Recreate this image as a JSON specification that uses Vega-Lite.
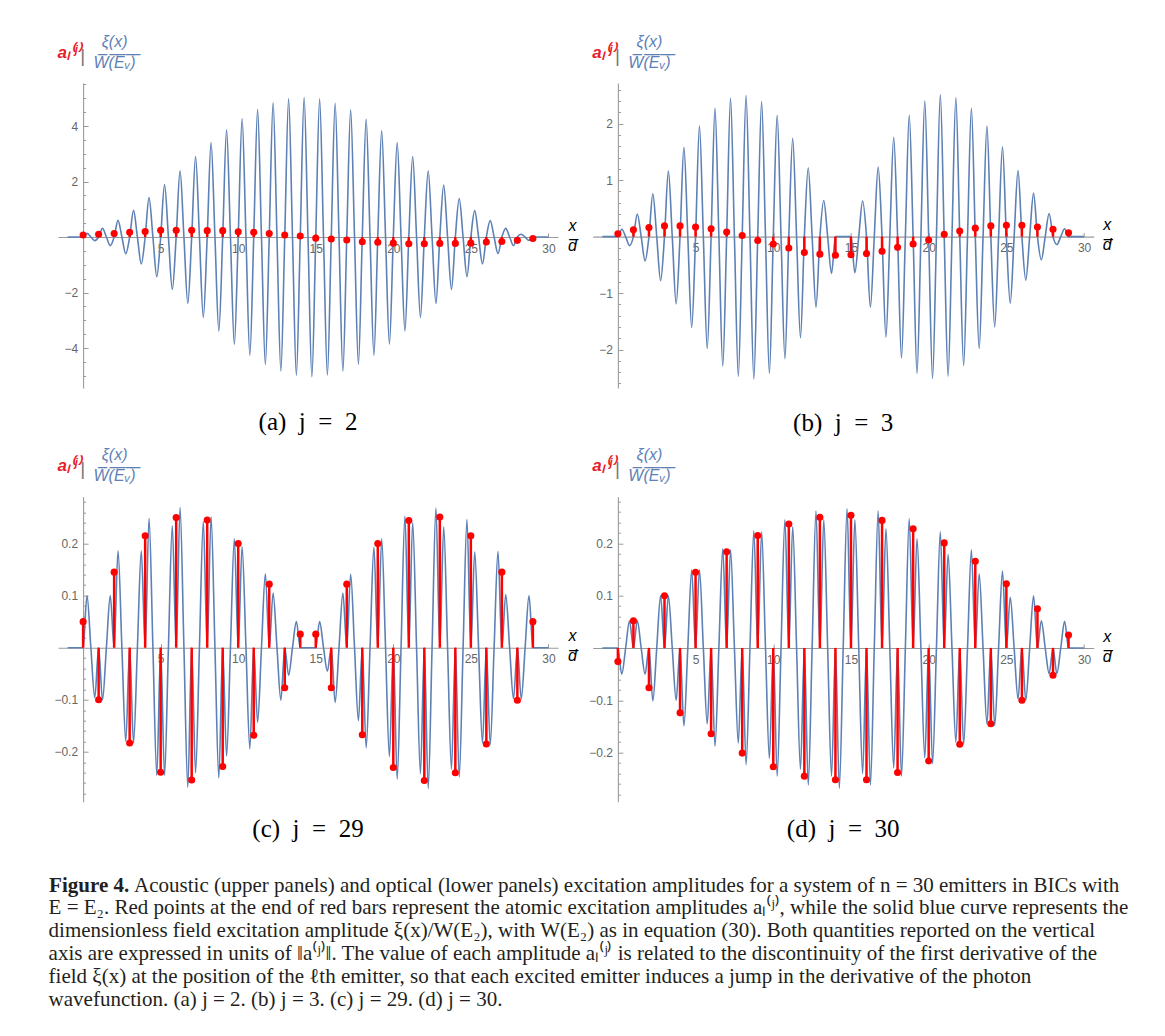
{
"$schema": "https://vega.github.io/schema/vega-lite/v6.json",
"background": "white",
"padding": {"left": 48, "top": 33, "right": 10, "bottom": 10},
"columns": 2,
"bounds": "flush",
"spacing": {"row": 108.7, "column": 34.7},
"title": {"text": ["E = E₂. Red points at the end of red bars represent the atomic excitation amplitudes aₗ⁽ʲ⁾, while the solid blue curve represents the", "dimensionless field excitation amplitude ξ(x)/W(E₂), with W(E₂) as in equation (30). Both quantities reported on the vertical", "axis are expressed in units of ‖a⁽ʲ⁾‖. The value of each amplitude aₗ⁽ʲ⁾ is related to the discontinuity of the first derivative of the", "field ξ(x) at the position of the ℓth emitter, so that each excited emitter induces a jump in the derivative of the photon", "wavefunction. (a) j = 2. (b) j = 3. (c) j = 29. (d) j = 30."], "orient": "bottom", "anchor": "start", "frame": "group", "offset": 2, "dx": -9.4, "font": "Liberation Serif", "fontSize": 21, "fontWeight": "normal", "color": "#231f20", "lineHeight": 23, "baseline": "top"},
"concat": [
{"width": 500, "height": 305,
 "title": {"text": "(a)\u2002j\u2002=\u20022", "orient": "bottom", "offset": 22, "frame": "group", "anchor": "middle", "font": "Liberation Serif", "fontSize": 25, "fontWeight": "normal", "color": "#000000", "baseline": "top"},
 "resolve": {"axis": {"x": "independent", "y": "independent"}},
 "layer": [
  {"data": {"name": "ca"},
   "mark": {"type": "line", "interpolate": "monotone", "color": "#5E81B5", "strokeWidth": 1.6},
   "encoding": {
    "x": {"field": "x", "type": "quantitative", "scale": {"domain": [-1.62, 30.62], "nice": false, "zero": false},
     "axis": {"orient": "bottom", "offset": -151, "values": [5,10,15,20,25,30], "format": "d", "tickSize": -4, "labelPadding": 10, "title": ["x", "d\u0305"], "titleX": 514, "titleY": -7, "titleAlign": "center", "titleBaseline": "alphabetic", "titleFont": "Liberation Sans", "titleFontStyle": "italic", "titleFontWeight": "normal", "titleFontSize": 16, "titleLineHeight": 20, "titleColor": "#000000"}},
    "y": {"field": "y", "type": "quantitative", "scale": {"domain": [-5.44, 5.55], "nice": false, "zero": false},
     "axis": {"orient": "left", "offset": -25.1, "values": [-5,-4.5,-4,-3.5,-3,-2.5,-2,-1.5,-1,-0.5,0.5,1,1.5,2,2.5,3,3.5,4,4.5,5,5.5], "labelExpr": "abs(datum.value) % 2 === 0 ? format(datum.value, 'd') : ''", "tickSize": {"condition": {"test": "abs(datum.value) % 2 === 0", "value": -5}, "value": -2.5}, "labelPadding": 10.5, "title": ["ξ(x)", "W\u0305(\u0305E\u0305ᵥ\u0305)\u0305"], "titleAngle": 0, "titleX": 31, "titleY": -37, "titleAlign": "center", "titleBaseline": "alphabetic", "titleFont": "Liberation Sans", "titleFontStyle": "italic", "titleFontWeight": "normal", "titleFontSize": 16, "titleLineHeight": 21, "titleColor": "#5E81B5"}}
   }},
  {"data": {"name": "aa"},
   "mark": {"type": "rule", "color": "#FF0000", "strokeWidth": 2.5},
   "encoding": {
    "x": {"field": "l", "type": "quantitative", "scale": {"domain": [-1.62, 30.62], "nice": false, "zero": false},
     "axis": {"orient": "top", "domain": false, "ticks": false, "labels": false, "title": "aₗ⁽ʲ⁾", "titleX": -1, "titleY": -26, "titleAlign": "left", "titleBaseline": "alphabetic", "titleFont": "Liberation Sans", "titleFontStyle": "italic", "titleFontWeight": "bold", "titleFontSize": 17, "titleColor": "#E8202A"}},
    "y": {"field": "a", "type": "quantitative", "scale": {"domain": [-5.44, 5.55], "nice": false, "zero": false},
     "axis": {"orient": "right", "domain": false, "ticks": false, "labels": false, "title": "|", "titleAngle": 0, "titleX": -475.7, "titleY": -22, "titleAlign": "center", "titleBaseline": "alphabetic", "titleFont": "Liberation Sans", "titleFontWeight": "normal", "titleFontSize": 19, "titleColor": "#777777"}},
    "y2": {"datum": 0}
   }},
  {"data": {"name": "aa"},
   "mark": {"type": "point", "filled": true, "color": "#FF0000", "size": 50, "opacity": 1},
   "encoding": {
    "x": {"field": "l", "type": "quantitative", "axis": null, "scale": {"domain": [-1.62, 30.62], "nice": false, "zero": false}},
    "y": {"field": "a", "type": "quantitative", "axis": null, "scale": {"domain": [-5.44, 5.55], "nice": false, "zero": false}}
   }}
 ]},
{"width": 501, "height": 305,
 "title": {"text": "(b)\u2002j\u2002=\u20023", "orient": "bottom", "offset": 22, "frame": "group", "anchor": "middle", "font": "Liberation Serif", "fontSize": 25, "fontWeight": "normal", "color": "#000000", "baseline": "top"},
 "resolve": {"axis": {"x": "independent", "y": "independent"}},
 "layer": [
  {"data": {"name": "cb"},
   "mark": {"type": "line", "interpolate": "monotone", "color": "#5E81B5", "strokeWidth": 1.6},
   "encoding": {
    "x": {"field": "x", "type": "quantitative", "scale": {"domain": [-1.62, 30.62], "nice": false, "zero": false},
     "axis": {"orient": "bottom", "offset": -151.4, "values": [5,10,15,20,25,30], "format": "d", "tickSize": -4, "labelPadding": 10, "title": ["x", "d\u0305"], "titleX": 514, "titleY": -7, "titleAlign": "center", "titleBaseline": "alphabetic", "titleFont": "Liberation Sans", "titleFontStyle": "italic", "titleFontWeight": "normal", "titleFontSize": 16, "titleLineHeight": 20, "titleColor": "#000000"}},
    "y": {"field": "y", "type": "quantitative", "scale": {"domain": [-2.68, 2.72], "nice": false, "zero": false},
     "axis": {"orient": "left", "offset": -25.2, "values": [-2.6,-2.4,-2.2,-2,-1.8,-1.6,-1.4,-1.2,-1,-0.8,-0.6,-0.4,-0.2,0.2,0.4,0.6,0.8,1,1.2,1.4,1.6,1.8,2,2.2,2.4,2.6], "labelExpr": "abs(datum.value) % 1 === 0 ? format(datum.value, 'd') : ''", "tickSize": {"condition": {"test": "abs(datum.value) % 1 === 0", "value": -5}, "value": -2.5}, "labelPadding": 10.5, "title": ["ξ(x)", "W\u0305(\u0305E\u0305ᵥ\u0305)\u0305"], "titleAngle": 0, "titleX": 31, "titleY": -37, "titleAlign": "center", "titleBaseline": "alphabetic", "titleFont": "Liberation Sans", "titleFontStyle": "italic", "titleFontWeight": "normal", "titleFontSize": 16, "titleLineHeight": 21, "titleColor": "#5E81B5"}}
   }},
  {"data": {"name": "ab"},
   "mark": {"type": "rule", "color": "#FF0000", "strokeWidth": 2.5},
   "encoding": {
    "x": {"field": "l", "type": "quantitative", "scale": {"domain": [-1.62, 30.62], "nice": false, "zero": false},
     "axis": {"orient": "top", "domain": false, "ticks": false, "labels": false, "title": "aₗ⁽ʲ⁾", "titleX": -1, "titleY": -26, "titleAlign": "left", "titleBaseline": "alphabetic", "titleFont": "Liberation Sans", "titleFontStyle": "italic", "titleFontWeight": "bold", "titleFontSize": 17, "titleColor": "#E8202A"}},
    "y": {"field": "a", "type": "quantitative", "scale": {"domain": [-2.68, 2.72], "nice": false, "zero": false},
     "axis": {"orient": "right", "domain": false, "ticks": false, "labels": false, "title": "|", "titleAngle": 0, "titleX": -476.7, "titleY": -22, "titleAlign": "center", "titleBaseline": "alphabetic", "titleFont": "Liberation Sans", "titleFontWeight": "normal", "titleFontSize": 19, "titleColor": "#777777"}},
    "y2": {"datum": 0}
   }},
  {"data": {"name": "ab"},
   "mark": {"type": "point", "filled": true, "color": "#FF0000", "size": 50, "opacity": 1},
   "encoding": {
    "x": {"field": "l", "type": "quantitative", "axis": null, "scale": {"domain": [-1.62, 30.62], "nice": false, "zero": false}},
    "y": {"field": "a", "type": "quantitative", "axis": null, "scale": {"domain": [-2.68, 2.72], "nice": false, "zero": false}}
   }}
 ]},
{"width": 500, "height": 305,
 "title": {"text": "(c)\u2002j\u2002=\u200229", "orient": "bottom", "offset": -78.5, "frame": "group", "anchor": "middle", "font": "Liberation Serif", "fontSize": 25, "fontWeight": "normal", "color": "#000000", "baseline": "top"},
 "resolve": {"axis": {"x": "independent", "y": "independent"}},
 "layer": [
  {"data": {"name": "cc"},
   "mark": {"type": "line", "interpolate": "monotone", "color": "#5E81B5", "strokeWidth": 1.6},
   "encoding": {
    "x": {"field": "x", "type": "quantitative", "scale": {"domain": [-1.62, 30.62], "nice": false, "zero": false},
     "axis": {"orient": "bottom", "offset": -154, "values": [5,10,15,20,25,30], "format": "d", "tickSize": -4, "labelPadding": 10, "title": ["x", "d\u0305"], "titleX": 514, "titleY": -7, "titleAlign": "center", "titleBaseline": "alphabetic", "titleFont": "Liberation Sans", "titleFontStyle": "italic", "titleFontWeight": "normal", "titleFontSize": 16, "titleLineHeight": 20, "titleColor": "#000000"}},
    "y": {"field": "y", "type": "quantitative", "scale": {"domain": [-0.2956, 0.2898], "nice": false, "zero": false},
     "axis": {"orient": "left", "offset": -25.1, "values": [-0.28,-0.26,-0.24,-0.22,-0.2,-0.18,-0.16,-0.14,-0.12,-0.1,-0.08,-0.06,-0.04,-0.02,0.02,0.04,0.06,0.08,0.1,0.12,0.14,0.16,0.18,0.2,0.22,0.24,0.26,0.28], "labelExpr": "abs(round(datum.value * 100)) % 10 === 0 ? format(datum.value, '.1f') : ''", "tickSize": {"condition": {"test": "abs(round(datum.value * 100)) % 10 === 0", "value": -5}, "value": -2.5}, "labelPadding": 10.5, "title": ["ξ(x)", "W\u0305(\u0305E\u0305ᵥ\u0305)\u0305"], "titleAngle": 0, "titleX": 31, "titleY": -37, "titleAlign": "center", "titleBaseline": "alphabetic", "titleFont": "Liberation Sans", "titleFontStyle": "italic", "titleFontWeight": "normal", "titleFontSize": 16, "titleLineHeight": 21, "titleColor": "#5E81B5"}}
   }},
  {"data": {"name": "ac"},
   "mark": {"type": "rule", "color": "#FF0000", "strokeWidth": 2.5},
   "encoding": {
    "x": {"field": "l", "type": "quantitative", "scale": {"domain": [-1.62, 30.62], "nice": false, "zero": false},
     "axis": {"orient": "top", "domain": false, "ticks": false, "labels": false, "title": "aₗ⁽ʲ⁾", "titleX": -1, "titleY": -26, "titleAlign": "left", "titleBaseline": "alphabetic", "titleFont": "Liberation Sans", "titleFontStyle": "italic", "titleFontWeight": "bold", "titleFontSize": 17, "titleColor": "#E8202A"}},
    "y": {"field": "a", "type": "quantitative", "scale": {"domain": [-0.2956, 0.2898], "nice": false, "zero": false},
     "axis": {"orient": "right", "domain": false, "ticks": false, "labels": false, "title": "|", "titleAngle": 0, "titleX": -475.7, "titleY": -22, "titleAlign": "center", "titleBaseline": "alphabetic", "titleFont": "Liberation Sans", "titleFontWeight": "normal", "titleFontSize": 19, "titleColor": "#777777"}},
    "y2": {"datum": 0}
   }},
  {"data": {"name": "ac"},
   "mark": {"type": "point", "filled": true, "color": "#FF0000", "size": 50, "opacity": 1},
   "encoding": {
    "x": {"field": "l", "type": "quantitative", "scale": {"domain": [-1.62, 30.62], "nice": false, "zero": false},
     "axis": {"orient": "bottom", "domain": false, "ticks": false, "labels": false, "grid": false, "title": "Figure 4.", "titleX": -9.4, "titleY": 89.3, "titleAlign": "left", "titleBaseline": "alphabetic", "titleFont": "Liberation Serif", "titleFontSize": 21, "titleFontWeight": "bold", "titleColor": "#231f20"}},
    "y": {"field": "a", "type": "quantitative", "axis": null, "scale": {"domain": [-0.2956, 0.2898], "nice": false, "zero": false}}
   }}
 ]},
{"width": 501, "height": 305,
 "title": {"text": "(d)\u2002j\u2002=\u200230", "orient": "bottom", "offset": -78.5, "frame": "group", "anchor": "middle", "font": "Liberation Serif", "fontSize": 25, "fontWeight": "normal", "color": "#000000", "baseline": "top"},
 "resolve": {"axis": {"x": "independent", "y": "independent"}},
 "layer": [
  {"data": {"name": "cd"},
   "mark": {"type": "line", "interpolate": "monotone", "color": "#5E81B5", "strokeWidth": 1.6},
   "encoding": {
    "x": {"field": "x", "type": "quantitative", "scale": {"domain": [-1.62, 30.62], "nice": false, "zero": false},
     "axis": {"orient": "bottom", "offset": -153.7, "values": [5,10,15,20,25,30], "format": "d", "tickSize": -4, "labelPadding": 10, "title": ["x", "d\u0305"], "titleX": 514, "titleY": -7, "titleAlign": "center", "titleBaseline": "alphabetic", "titleFont": "Liberation Sans", "titleFontStyle": "italic", "titleFontWeight": "normal", "titleFontSize": 16, "titleLineHeight": 20, "titleColor": "#000000"}},
    "y": {"field": "y", "type": "quantitative", "scale": {"domain": [-0.2939, 0.2893], "nice": false, "zero": false},
     "axis": {"orient": "left", "offset": -25.2, "values": [-0.28,-0.26,-0.24,-0.22,-0.2,-0.18,-0.16,-0.14,-0.12,-0.1,-0.08,-0.06,-0.04,-0.02,0.02,0.04,0.06,0.08,0.1,0.12,0.14,0.16,0.18,0.2,0.22,0.24,0.26,0.28], "labelExpr": "abs(round(datum.value * 100)) % 10 === 0 ? format(datum.value, '.1f') : ''", "tickSize": {"condition": {"test": "abs(round(datum.value * 100)) % 10 === 0", "value": -5}, "value": -2.5}, "labelPadding": 10.5, "title": ["ξ(x)", "W\u0305(\u0305E\u0305ᵥ\u0305)\u0305"], "titleAngle": 0, "titleX": 31, "titleY": -37, "titleAlign": "center", "titleBaseline": "alphabetic", "titleFont": "Liberation Sans", "titleFontStyle": "italic", "titleFontWeight": "normal", "titleFontSize": 16, "titleLineHeight": 21, "titleColor": "#5E81B5"}}
   }},
  {"data": {"name": "ad"},
   "mark": {"type": "rule", "color": "#FF0000", "strokeWidth": 2.5},
   "encoding": {
    "x": {"field": "l", "type": "quantitative", "scale": {"domain": [-1.62, 30.62], "nice": false, "zero": false},
     "axis": {"orient": "top", "domain": false, "ticks": false, "labels": false, "title": "aₗ⁽ʲ⁾", "titleX": -1, "titleY": -26, "titleAlign": "left", "titleBaseline": "alphabetic", "titleFont": "Liberation Sans", "titleFontStyle": "italic", "titleFontWeight": "bold", "titleFontSize": 17, "titleColor": "#E8202A"}},
    "y": {"field": "a", "type": "quantitative", "scale": {"domain": [-0.2939, 0.2893], "nice": false, "zero": false},
     "axis": {"orient": "right", "domain": false, "ticks": false, "labels": false, "title": "|", "titleAngle": 0, "titleX": -476.7, "titleY": -22, "titleAlign": "center", "titleBaseline": "alphabetic", "titleFont": "Liberation Sans", "titleFontWeight": "normal", "titleFontSize": 19, "titleColor": "#777777"}},
    "y2": {"datum": 0}
   }},
  {"data": {"name": "ad"},
   "mark": {"type": "point", "filled": true, "color": "#FF0000", "size": 50, "opacity": 1},
   "encoding": {
    "x": {"field": "l", "type": "quantitative", "scale": {"domain": [-1.62, 30.62], "nice": false, "zero": false},
     "axis": {"orient": "bottom", "domain": false, "ticks": false, "labels": false, "grid": false, "title": "Acoustic (upper panels) and optical (lower panels) excitation amplitudes for a system of n = 30 emitters in BICs with", "titleX": -459.1, "titleY": 89.3, "titleAlign": "left", "titleBaseline": "alphabetic", "titleFont": "Liberation Serif", "titleFontSize": 21, "titleFontWeight": "normal", "titleColor": "#231f20"}},
    "y": {"field": "a", "type": "quantitative", "axis": null, "scale": {"domain": [-0.2939, 0.2893], "nice": false, "zero": false}}
   }}
 ]}
],
"datasets": {
"ca": [{"x":-1,"y":0},{"x":0,"y":0},
{"x":0.25,"y":0.13},{"x":0.5,"y":0},{"x":0.75,"y":-0.13},{"x":1,"y":0},
{"x":1.25,"y":0.31},{"x":1.5,"y":0},{"x":1.75,"y":-0.31},{"x":2,"y":0},
{"x":2.25,"y":0.6},{"x":2.5,"y":0},{"x":2.75,"y":-0.6},{"x":3,"y":0},
{"x":3.25,"y":0.96},{"x":3.5,"y":0},{"x":3.75,"y":-0.97},{"x":4,"y":0},
{"x":4.25,"y":1.42},{"x":4.5,"y":0},{"x":4.75,"y":-1.43},{"x":5,"y":0},
{"x":5.25,"y":1.89},{"x":5.5,"y":0},{"x":5.75,"y":-1.89},{"x":6,"y":0},
{"x":6.25,"y":2.39},{"x":6.5,"y":0},{"x":6.75,"y":-2.39},{"x":7,"y":0},
{"x":7.25,"y":2.9},{"x":7.5,"y":0},{"x":7.75,"y":-2.9},{"x":8,"y":0},
{"x":8.25,"y":3.4},{"x":8.5,"y":0},{"x":8.75,"y":-3.39},{"x":9,"y":0},
{"x":9.25,"y":3.86},{"x":9.5,"y":0},{"x":9.75,"y":-3.86},{"x":10,"y":0},
{"x":10.25,"y":4.26},{"x":10.5,"y":0},{"x":10.75,"y":-4.26},{"x":11,"y":0},
{"x":11.25,"y":4.59},{"x":11.5,"y":0},{"x":11.75,"y":-4.59},{"x":12,"y":0},
{"x":12.25,"y":4.84},{"x":12.5,"y":0},{"x":12.75,"y":-4.83},{"x":13,"y":0},
{"x":13.25,"y":4.98},{"x":13.5,"y":0},{"x":13.75,"y":-4.98},{"x":14,"y":0},
{"x":14.25,"y":5.03},{"x":14.5,"y":0},{"x":14.75,"y":-5.03},{"x":15,"y":0},
{"x":15.25,"y":4.97},{"x":15.5,"y":0},{"x":15.75,"y":-4.97},{"x":16,"y":0},
{"x":16.25,"y":4.82},{"x":16.5,"y":0},{"x":16.75,"y":-4.83},{"x":17,"y":0},
{"x":17.25,"y":4.58},{"x":17.5,"y":0},{"x":17.75,"y":-4.58},{"x":18,"y":0},
{"x":18.25,"y":4.24},{"x":18.5,"y":0},{"x":18.75,"y":-4.26},{"x":19,"y":0},
{"x":19.25,"y":3.83},{"x":19.5,"y":0},{"x":19.75,"y":-3.86},{"x":20,"y":0},
{"x":20.25,"y":3.4},{"x":20.5,"y":0},{"x":20.75,"y":-3.38},{"x":21,"y":0},
{"x":21.25,"y":2.9},{"x":21.5,"y":0},{"x":21.75,"y":-2.9},{"x":22,"y":0},
{"x":22.25,"y":2.39},{"x":22.5,"y":0},{"x":22.75,"y":-2.39},{"x":23,"y":0},
{"x":23.25,"y":1.87},{"x":23.5,"y":0},{"x":23.75,"y":-1.89},{"x":24,"y":0},
{"x":24.25,"y":1.39},{"x":24.5,"y":0},{"x":24.75,"y":-1.43},{"x":25,"y":0},
{"x":25.25,"y":0.95},{"x":25.5,"y":0},{"x":25.75,"y":-0.97},{"x":26,"y":0},
{"x":26.25,"y":0.59},{"x":26.5,"y":0},{"x":26.75,"y":-0.6},{"x":27,"y":0},
{"x":27.25,"y":0.31},{"x":27.5,"y":0},{"x":27.75,"y":-0.31},{"x":28,"y":0},
{"x":28.25,"y":0.1},{"x":28.5,"y":0},{"x":28.75,"y":-0.12},{"x":29,"y":0},
{"x":30,"y":0}],
"cb": [{"x":-1,"y":0},{"x":0,"y":0},
{"x":0.25,"y":0.13},{"x":0.5,"y":0},{"x":0.75,"y":-0.16},{"x":1,"y":0},
{"x":1.25,"y":0.4},{"x":1.5,"y":0},{"x":1.75,"y":-0.43},{"x":2,"y":0},
{"x":2.25,"y":0.76},{"x":2.5,"y":0},{"x":2.75,"y":-0.78},{"x":3,"y":0},
{"x":3.25,"y":1.16},{"x":3.5,"y":0},{"x":3.75,"y":-1.19},{"x":4,"y":0},
{"x":4.25,"y":1.58},{"x":4.5,"y":0},{"x":4.75,"y":-1.61},{"x":5,"y":0},
{"x":5.25,"y":1.96},{"x":5.5,"y":0},{"x":5.75,"y":-1.98},{"x":6,"y":0},
{"x":6.25,"y":2.27},{"x":6.5,"y":0},{"x":6.75,"y":-2.29},{"x":7,"y":0},
{"x":7.25,"y":2.45},{"x":7.5,"y":0},{"x":7.75,"y":-2.47},{"x":8,"y":0},
{"x":8.25,"y":2.5},{"x":8.5,"y":0},{"x":8.75,"y":-2.52},{"x":9,"y":0},
{"x":9.25,"y":2.39},{"x":9.5,"y":0},{"x":9.75,"y":-2.42},{"x":10,"y":0},
{"x":10.25,"y":2.15},{"x":10.5,"y":0},{"x":10.75,"y":-2.16},{"x":11,"y":0},
{"x":11.25,"y":1.74},{"x":11.5,"y":0},{"x":11.75,"y":-1.79},{"x":12,"y":0},
{"x":12.25,"y":1.22},{"x":12.5,"y":0},{"x":12.75,"y":-1.25},{"x":13,"y":0},
{"x":13.25,"y":0.64},{"x":13.5,"y":0},{"x":13.75,"y":-0.65},{"x":14,"y":0},
{"x":15,"y":0},
{"x":15.25,"y":-0.64},{"x":15.5,"y":0},{"x":15.75,"y":0.63},{"x":16,"y":0},
{"x":16.25,"y":-1.25},{"x":16.5,"y":0},{"x":16.75,"y":1.23},{"x":17,"y":0},
{"x":17.25,"y":-1.78},{"x":17.5,"y":0},{"x":17.75,"y":1.76},{"x":18,"y":0},
{"x":18.25,"y":-2.15},{"x":18.5,"y":0},{"x":18.75,"y":2.15},{"x":19,"y":0},
{"x":19.25,"y":-2.42},{"x":19.5,"y":0},{"x":19.75,"y":2.4},{"x":20,"y":0},
{"x":20.25,"y":-2.51},{"x":20.5,"y":0},{"x":20.75,"y":2.51},{"x":21,"y":0},
{"x":21.25,"y":-2.47},{"x":21.5,"y":0},{"x":21.75,"y":2.46},{"x":22,"y":0},
{"x":22.25,"y":-2.28},{"x":22.5,"y":0},{"x":22.75,"y":2.27},{"x":23,"y":0},
{"x":23.25,"y":-1.98},{"x":23.5,"y":0},{"x":23.75,"y":1.96},{"x":24,"y":0},
{"x":24.25,"y":-1.6},{"x":24.5,"y":0},{"x":24.75,"y":1.59},{"x":25,"y":0},
{"x":25.25,"y":-1.18},{"x":25.5,"y":0},{"x":25.75,"y":1.17},{"x":26,"y":0},
{"x":26.25,"y":-0.77},{"x":26.5,"y":0},{"x":26.75,"y":0.77},{"x":27,"y":0},
{"x":27.25,"y":-0.41},{"x":27.5,"y":0},{"x":27.75,"y":0.41},{"x":28,"y":0},
{"x":28.25,"y":-0.14},{"x":28.5,"y":0},{"x":28.75,"y":0.14},{"x":29,"y":0},
{"x":30,"y":0}],
"cc": [{"x":-1,"y":0},{"x":0,"y":0},
{"x":0.25,"y":0.1},{"x":0.5,"y":0},{"x":0.75,"y":-0.096},{"x":1,"y":0},
{"x":1.25,"y":-0.1},{"x":1.5,"y":0},{"x":1.75,"y":0.1},{"x":2,"y":0},
{"x":2.25,"y":0.186},{"x":2.5,"y":0},{"x":2.75,"y":-0.18},{"x":3,"y":0},
{"x":3.25,"y":-0.183},{"x":3.5,"y":0},{"x":3.75,"y":0.186},{"x":4,"y":0},
{"x":4.25,"y":0.248},{"x":4.5,"y":0},{"x":4.75,"y":-0.245},{"x":5,"y":0},
{"x":5.25,"y":-0.245},{"x":5.5,"y":0},{"x":5.75,"y":0.234},{"x":6,"y":0},
{"x":6.25,"y":0.269},{"x":6.5,"y":0},{"x":6.75,"y":-0.268},{"x":7,"y":0},
{"x":7.25,"y":-0.24},{"x":7.5,"y":0},{"x":7.75,"y":0.242},{"x":8,"y":0},
{"x":8.25,"y":0.251},{"x":8.5,"y":0},{"x":8.75,"y":-0.25},{"x":9,"y":0},
{"x":9.25,"y":-0.208},{"x":9.5,"y":0},{"x":9.75,"y":0.209},{"x":10,"y":0},
{"x":10.25,"y":0.194},{"x":10.5,"y":0},{"x":10.75,"y":-0.194},{"x":11,"y":0},
{"x":11.25,"y":-0.143},{"x":11.5,"y":0},{"x":11.75,"y":0.142},{"x":12,"y":0},
{"x":12.25,"y":0.105},{"x":12.5,"y":0},{"x":12.75,"y":-0.101},{"x":13,"y":0},
{"x":13.25,"y":-0.053},{"x":13.5,"y":0},{"x":13.75,"y":0.05},{"x":14,"y":0},
{"x":15,"y":0},
{"x":15.25,"y":0.05},{"x":15.5,"y":0},{"x":15.75,"y":-0.045},{"x":16,"y":0},
{"x":16.25,"y":-0.105},{"x":16.5,"y":0},{"x":16.75,"y":0.105},{"x":17,"y":0},
{"x":17.25,"y":0.141},{"x":17.5,"y":0},{"x":17.75,"y":-0.14},{"x":18,"y":0},
{"x":18.25,"y":-0.192},{"x":18.5,"y":0},{"x":18.75,"y":0.193},{"x":19,"y":0},
{"x":19.25,"y":0.209},{"x":19.5,"y":0},{"x":19.75,"y":-0.209},{"x":20,"y":0},
{"x":20.25,"y":-0.252},{"x":20.5,"y":0},{"x":20.75,"y":0.252},{"x":21,"y":0},
{"x":21.25,"y":0.24},{"x":21.5,"y":0},{"x":21.75,"y":-0.242},{"x":22,"y":0},
{"x":22.25,"y":-0.27},{"x":22.5,"y":0},{"x":22.75,"y":0.268},{"x":23,"y":0},
{"x":23.25,"y":0.232},{"x":23.5,"y":0},{"x":23.75,"y":-0.233},{"x":24,"y":0},
{"x":24.25,"y":-0.248},{"x":24.5,"y":0},{"x":24.75,"y":0.246},{"x":25,"y":0},
{"x":25.25,"y":0.184},{"x":25.5,"y":0},{"x":25.75,"y":-0.183},{"x":26,"y":0},
{"x":26.25,"y":-0.186},{"x":26.5,"y":0},{"x":26.75,"y":0.185},{"x":27,"y":0},
{"x":27.25,"y":0.102},{"x":27.5,"y":0},{"x":27.75,"y":-0.098},{"x":28,"y":0},
{"x":28.25,"y":-0.098},{"x":28.5,"y":0},{"x":28.75,"y":0.1},{"x":29,"y":0},
{"x":30,"y":0}],
"cd": [{"x":-1,"y":0},{"x":0,"y":0},
{"x":0.25,"y":-0.05},{"x":0.5,"y":0},{"x":0.75,"y":0.052},{"x":1,"y":0},
{"x":1.25,"y":0.052},{"x":1.5,"y":0},{"x":1.75,"y":-0.05},{"x":2,"y":0},
{"x":2.25,"y":-0.101},{"x":2.5,"y":0},{"x":2.75,"y":0.1},{"x":3,"y":0},
{"x":3.25,"y":0.1},{"x":3.5,"y":0},{"x":3.75,"y":-0.1},{"x":4,"y":0},
{"x":4.25,"y":-0.149},{"x":4.5,"y":0},{"x":4.75,"y":0.149},{"x":5,"y":0},
{"x":5.25,"y":0.149},{"x":5.5,"y":0},{"x":5.75,"y":-0.145},{"x":6,"y":0},
{"x":6.25,"y":-0.188},{"x":6.5,"y":0},{"x":6.75,"y":0.19},{"x":7,"y":0},
{"x":7.25,"y":0.188},{"x":7.5,"y":0},{"x":7.75,"y":-0.182},{"x":8,"y":0},
{"x":8.25,"y":-0.223},{"x":8.5,"y":0},{"x":8.75,"y":0.224},{"x":9,"y":0},
{"x":9.25,"y":0.222},{"x":9.5,"y":0},{"x":9.75,"y":-0.211},{"x":10,"y":0},
{"x":10.25,"y":-0.245},{"x":10.5,"y":0},{"x":10.75,"y":0.245},{"x":11,"y":0},
{"x":11.25,"y":0.232},{"x":11.5,"y":0},{"x":11.75,"y":-0.232},{"x":12,"y":0},
{"x":12.25,"y":-0.262},{"x":12.5,"y":0},{"x":12.75,"y":0.262},{"x":13,"y":0},
{"x":13.25,"y":0.245},{"x":13.5,"y":0},{"x":13.75,"y":-0.245},{"x":14,"y":0},
{"x":14.25,"y":-0.268},{"x":14.5,"y":0},{"x":14.75,"y":0.266},{"x":15,"y":0},
{"x":15.25,"y":0.245},{"x":15.5,"y":0},{"x":15.75,"y":-0.24},{"x":16,"y":0},
{"x":16.25,"y":-0.262},{"x":16.5,"y":0},{"x":16.75,"y":0.262},{"x":17,"y":0},
{"x":17.25,"y":0.228},{"x":17.5,"y":0},{"x":17.75,"y":-0.229},{"x":18,"y":0},
{"x":18.25,"y":-0.245},{"x":18.5,"y":0},{"x":18.75,"y":0.247},{"x":19,"y":0},
{"x":19.25,"y":0.209},{"x":19.5,"y":0},{"x":19.75,"y":-0.21},{"x":20,"y":0},
{"x":20.25,"y":-0.221},{"x":20.5,"y":0},{"x":20.75,"y":0.222},{"x":21,"y":0},
{"x":21.25,"y":0.179},{"x":21.5,"y":0},{"x":21.75,"y":-0.18},{"x":22,"y":0},
{"x":22.25,"y":-0.184},{"x":22.5,"y":0},{"x":22.75,"y":0.188},{"x":23,"y":0},
{"x":23.25,"y":0.142},{"x":23.5,"y":0},{"x":23.75,"y":-0.145},{"x":24,"y":0},
{"x":24.25,"y":-0.148},{"x":24.5,"y":0},{"x":24.75,"y":0.147},{"x":25,"y":0},
{"x":25.25,"y":0.097},{"x":25.5,"y":0},{"x":25.75,"y":-0.097},{"x":26,"y":0},
{"x":26.25,"y":-0.1},{"x":26.5,"y":0},{"x":26.75,"y":0.1},{"x":27,"y":0},
{"x":27.25,"y":0.052},{"x":27.5,"y":0},{"x":27.75,"y":-0.049},{"x":28,"y":0},
{"x":28.25,"y":-0.049},{"x":28.5,"y":0},{"x":28.75,"y":0.051},{"x":29,"y":0},
{"x":30,"y":0}],
"aa": [{"l":0,"a":0.07},{"l":1,"a":0.1},{"l":2,"a":0.13},{"l":3,"a":0.17},{"l":4,"a":0.2},{"l":5,"a":0.24},{"l":6,"a":0.24},{"l":7,"a":0.24},{"l":8,"a":0.23},{"l":9,"a":0.23},{"l":10,"a":0.19},{"l":11,"a":0.17},{"l":12,"a":0.13},{"l":13,"a":0.07},{"l":14,"a":0.04},{"l":15,"a":-0.04},{"l":16,"a":-0.07},{"l":17,"a":-0.11},{"l":18,"a":-0.17},{"l":19,"a":-0.19},{"l":20,"a":-0.22},{"l":21,"a":-0.24},{"l":22,"a":-0.24},{"l":23,"a":-0.23},{"l":24,"a":-0.23},{"l":25,"a":-0.22},{"l":26,"a":-0.18},{"l":27,"a":-0.16},{"l":28,"a":-0.12},{"l":29,"a":-0.05}],
"ab": [{"l":0,"a":0.05},{"l":1,"a":0.12},{"l":2,"a":0.16},{"l":3,"a":0.19},{"l":4,"a":0.19},{"l":5,"a":0.17},{"l":6,"a":0.14},{"l":7,"a":0.08},{"l":8,"a":0.02},{"l":9,"a":-0.07},{"l":10,"a":-0.13},{"l":11,"a":-0.2},{"l":12,"a":-0.28},{"l":13,"a":-0.31},{"l":14,"a":-0.33},{"l":15,"a":-0.32},{"l":16,"a":-0.3},{"l":17,"a":-0.26},{"l":18,"a":-0.19},{"l":19,"a":-0.13},{"l":20,"a":-0.06},{"l":21,"a":0.04},{"l":22,"a":0.1},{"l":23,"a":0.15},{"l":24,"a":0.19},{"l":25,"a":0.2},{"l":26,"a":0.2},{"l":27,"a":0.17},{"l":28,"a":0.13},{"l":29,"a":0.07}],
"ac": [{"l":0,"a":0.05},{"l":1,"a":-0.1},{"l":2,"a":0.145},{"l":3,"a":-0.183},{"l":4,"a":0.215},{"l":5,"a":-0.239},{"l":6,"a":0.25},{"l":7,"a":-0.254},{"l":8,"a":0.245},{"l":9,"a":-0.228},{"l":10,"a":0.2},{"l":11,"a":-0.168},{"l":12,"a":0.122},{"l":13,"a":-0.077},{"l":14,"a":0.026},{"l":15,"a":0.026},{"l":16,"a":-0.077},{"l":17,"a":0.122},{"l":18,"a":-0.167},{"l":19,"a":0.2},{"l":20,"a":-0.23},{"l":21,"a":0.244},{"l":22,"a":-0.255},{"l":23,"a":0.251},{"l":24,"a":-0.24},{"l":25,"a":0.215},{"l":26,"a":-0.185},{"l":27,"a":0.145},{"l":28,"a":-0.101},{"l":29,"a":0.05}],
"ad": [{"l":0,"a":-0.026},{"l":1,"a":0.052},{"l":2,"a":-0.076},{"l":3,"a":0.1},{"l":4,"a":-0.124},{"l":5,"a":0.145},{"l":6,"a":-0.164},{"l":7,"a":0.184},{"l":8,"a":-0.201},{"l":9,"a":0.215},{"l":10,"a":-0.227},{"l":11,"a":0.237},{"l":12,"a":-0.245},{"l":13,"a":0.25},{"l":14,"a":-0.252},{"l":15,"a":0.254},{"l":16,"a":-0.252},{"l":17,"a":0.244},{"l":18,"a":-0.238},{"l":19,"a":0.228},{"l":20,"a":-0.216},{"l":21,"a":0.201},{"l":22,"a":-0.184},{"l":23,"a":0.166},{"l":24,"a":-0.145},{"l":25,"a":0.123},{"l":26,"a":-0.1},{"l":27,"a":0.075},{"l":28,"a":-0.052},{"l":29,"a":0.025}]
},
"config": {
 "view": {"stroke": null},
 "axis": {"grid": false, "labelFont": "Liberation Sans", "labelFontSize": 12, "labelColor": "#666666", "domainColor": "#9a9a9a", "tickColor": "#9a9a9a", "domainWidth": 1.1, "labelFlush": false, "labelOverlap": false}
}
}
